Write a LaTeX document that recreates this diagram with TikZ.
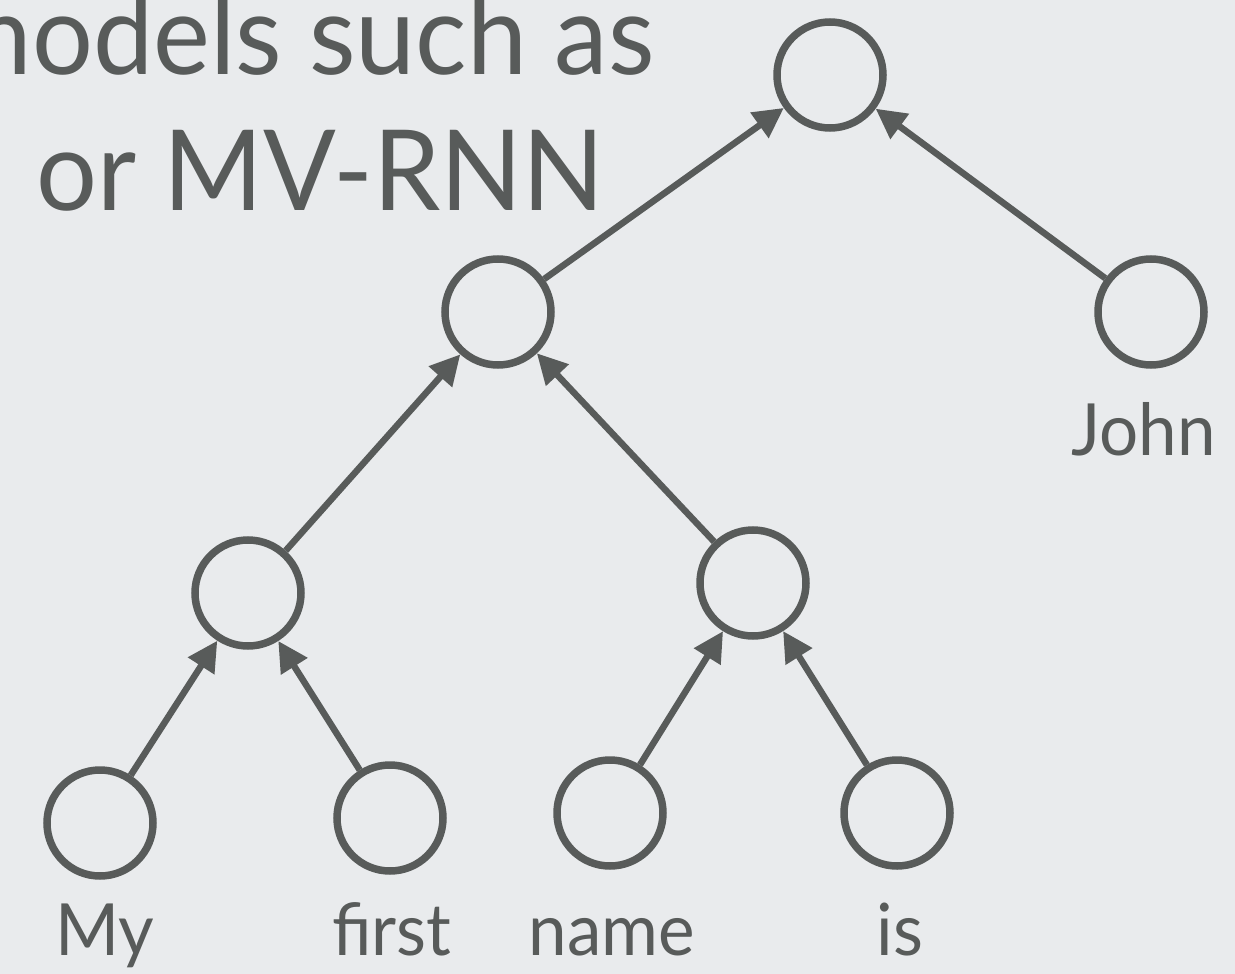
\documentclass[tikz,border=0pt]{standalone}
\usepackage{fontspec}
\setmainfont{Lato}[FakeStretch=0.96]
\usetikzlibrary{arrows.meta}
\definecolor{bg}{RGB}{233,235,237}
\definecolor{ink}{RGB}{88,91,90}
\tikzset{
  unit/.style={circle,draw=ink,line width=7.5pt,minimum size=106pt,inner sep=0pt},
  conn/.style={draw=ink,line width=6.5pt,-{Triangle[length=30pt,width=30pt]}},
  word/.style={text=ink,font=\fontsize{72}{72}\selectfont,inner sep=0pt},
  title/.style={text=ink,font=\fontsize{112}{112}\selectfont,inner sep=0pt,anchor=base east}
}
\begin{document}
\begin{tikzpicture}[x=1pt,y=-1pt]
\fill[bg] (0,0) rectangle (1235,974);
\useasboundingbox (0,0) rectangle (1235,974);
\node[title] (t1) at (655,75) {models such as};
\node[title] (t2) at (605,210) {or MV-RNN};
\node[unit] (root) at (830,75) {};
\node[unit] (mid) at (498,312) {};
\node[unit] (john) at (1151,312) {};
\node[unit] (l2a) at (248,593) {};
\node[unit] (l2b) at (753,583) {};
\node[unit] (w1) at (100,823) {};
\node[unit] (w2) at (390,818) {};
\node[unit] (w3) at (610,813) {};
\node[unit] (w4) at (897,813) {};
\node[word,anchor=base] (lmy) at (105,955) {My};
\node[word,anchor=base] (lfirst) at (392,955) {first};
\node[word,anchor=base] (lname) at (612,955) {name};
\node[word,anchor=base] (lis) at (900,955) {is};
\node[word,anchor=base east] (ljohn) at (1216,455) {John};
\draw[conn] (mid) -- (root);
\draw[conn] (john) -- (root);
\draw[conn] (l2a) -- (mid);
\draw[conn] (l2b) -- (mid);
\draw[conn] (w1) -- (l2a);
\draw[conn] (w2) -- (l2a);
\draw[conn] (w3) -- (l2b);
\draw[conn] (w4) -- (l2b);
\end{tikzpicture}
\end{document}
